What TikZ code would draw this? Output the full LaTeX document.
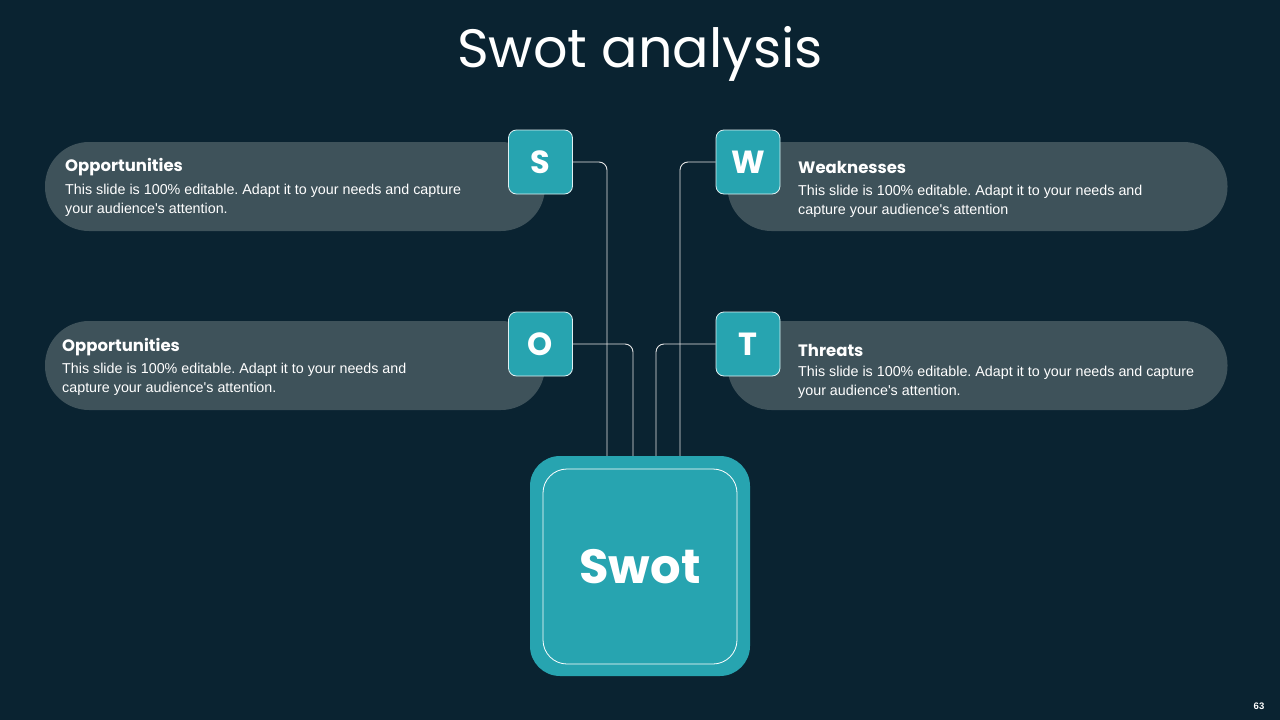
\documentclass[tikz,border=0pt]{standalone}
\usepackage{fontspec}
\setmainfont{Liberation Sans}[Ligatures=TeXOff]
\newfontfamily\gothic{Poppins}
\usepackage{tikz}
\usetikzlibrary{positioning}
\frenchspacing

\definecolor{bgnavy}{HTML}{0A2331}
\definecolor{pillgray}{HTML}{3E525A}
\definecolor{swotteal}{HTML}{27A4B0}

\begin{document}
\begin{tikzpicture}[
    x=1pt, y=-1pt,
    pill/.style={rectangle, rounded corners=44pt, fill=pillgray, minimum width=500pt, minimum height=89pt, inner sep=0pt},
    letter/.style={rectangle, rounded corners=8pt, fill=swotteal, draw=white!85!swotteal, line width=0.8pt, minimum size=64pt, inner sep=0pt, text=white, font=\gothic\bfseries\fontsize{32}{32}\selectfont},
    heading/.style={anchor=base west, inner sep=0pt, text=white, font=\gothic\bfseries\fontsize{16.5}{18}\selectfont},
    body/.style={anchor=north west, inner sep=0pt, align=left, text=white, font=\fontsize{14.3}{19}\selectfont},
    link/.style={draw=white!80!gray, line width=0.9pt, rounded corners=8pt}
]

% Background
\fill[bgnavy] (0,0) rectangle (1280,720);
\useasboundingbox (0,0) rectangle (1280,720);

% Title
\node[anchor=base, inner sep=0pt, text=white, font=\gothic\fontsize{54}{56}\selectfont] (title) at (640,67) {Swot analysis};

% Pills
\node[pill] (pill-s) at (295,186.5) {};
\node[pill] (pill-w) at (977.5,186.5) {};
\node[pill] (pill-o) at (295,365.5) {};
\node[pill] (pill-t) at (977.5,365.5) {};

% Texts
\node[heading] (head-s) at (65,171) {Opportunities};
\node[body] (body-s) at (65,184) {This slide is 100\% editable. Adapt it to your needs and capture\\your audience's attention.};
\node[heading] (head-w) at (798,173) {Weaknesses};
\node[body] (body-w) at (798,185) {This slide is 100\% editable. Adapt it to your needs and\\capture your audience's attention};
\node[heading] (head-o) at (62,351) {Opportunities};
\node[body] (body-o) at (62,363) {This slide is 100\% editable. Adapt it to your needs and\\capture your audience's attention.};
\node[heading] (head-t) at (798,356) {Threats};
\node[body] (body-t) at (798,366) {This slide is 100\% editable. Adapt it to your needs and capture\\your audience's attention.};

% Center box
\node[rectangle, rounded corners=30pt, fill=swotteal, minimum size=220pt, inner sep=0pt] (swot) at (640,566) {};
\node[rectangle, rounded corners=24pt, draw=white, line width=0.8pt, minimum width=194pt, minimum height=195pt, inner sep=0pt, text=white, font=\gothic\bfseries\fontsize{48}{50}\selectfont] (swot-label) at (640,566.5) {Swot};

% Letters
\node[letter] (sq-s) at (540.5,162) {S};
\node[letter] (sq-w) at (748,162) {W};
\node[letter] (sq-o) at (540.5,344) {O};
\node[letter] (sq-t) at (748,344) {T};

% Links
\draw[link] (sq-s.east) -| ([xshift=-33pt]swot.north);
\draw[link] (sq-o.east) -| ([xshift=-7pt]swot.north);
\draw[link] (sq-t.west) -| ([xshift=16pt]swot.north);
\draw[link] (sq-w.west) -| ([xshift=40pt]swot.north);

% Page number
\node[inner sep=0pt, text=white, font=\bfseries\fontsize{9.5}{10}\selectfont] (page) at (1259,706) {63};

\end{tikzpicture}
\end{document}
